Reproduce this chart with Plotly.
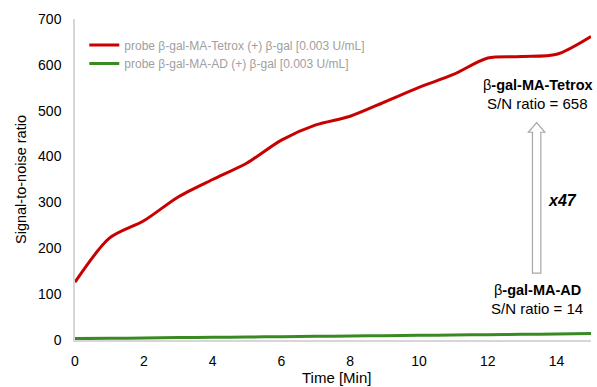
import plotly.graph_objects as go

time_min = [0, 1, 2, 3, 4, 5, 6, 7, 8, 9, 10, 11, 12, 13, 14, 15]
tetrox = [126, 222, 260, 312, 350, 386, 436, 469, 488, 519, 551, 579, 615, 618, 623, 662]
ad = [3, 3.7, 4.4, 5.2, 5.9, 6.6, 7.3, 8.0, 8.8, 9.5, 10.2, 11.0, 11.7, 12.4, 13.2, 14.0]

names = ["probe β-gal-MA-Tetrox (+) β-gal [0.003 U/mL]",
         "probe β-gal-MA-AD (+) β-gal [0.003 U/mL]"]

FONT = "Liberation Sans, Arial, sans-serif"

fig = go.Figure()
fig.add_trace(go.Scatter(x=time_min, y=tetrox, mode="lines", name=names[0], legend="legend",
                         line=dict(color="#C80000", width=3, shape="spline", smoothing=0.8)))
fig.add_trace(go.Scatter(x=time_min, y=ad, mode="lines", name=names[1], legend="legend2",
                         line=dict(color="#3A8A24", width=3, shape="spline")))

# hollow arrow
xc, hw, sw = 13.42, 0.24, 0.122
yb, yh, yt = 146, 453, 474
path = (f"M {xc-sw},{yb} L {xc+sw},{yb} L {xc+sw},{yh} L {xc+hw},{yh} "
        f"L {xc},{yt} L {xc-hw},{yh} L {xc-sw},{yh} Z")
fig.add_shape(type="path", path=path, xref="x", yref="y",
              line=dict(color="#A6A6A6", width=1.2), fillcolor="white")

def ann(x, y, text, size, yanchor="middle"):
    fig.add_annotation(x=x, y=y, xref="x", yref="y", showarrow=False, text=text,
                       yanchor=yanchor, borderpad=0,
                       font=dict(family=FONT, size=size, color="#000"))

ann(13.46, 537, "β<b>-gal-MA-Tetrox</b>", 14.5, "bottom")
ann(13.44, 537, "S/N ratio = 658", 15, "top")
ann(14.16, 305, "<b><i>x47</i></b>", 16)
ann(13.44, 89, "β<b>-gal-MA-AD</b>", 14.5, "bottom")
ann(13.44, 89, "S/N ratio = 14", 15, "top")

# x-axis title
fig.add_annotation(x=0.506, y=0, xref="paper", yref="paper", yshift=-37,
                   showarrow=False, text="Time [Min]", yanchor="middle", borderpad=0,
                   font=dict(family=FONT, size=15, color="#000"))

legend_common = dict(x=0.018, xanchor="left", yanchor="middle",
                     bgcolor="rgba(0,0,0,0)", font=dict(family=FONT, size=12, color="#A0A0A0"),
                     itemwidth=30)

fig.update_layout(
    width=597, height=387,
    margin=dict(l=75, r=6, t=19, b=47, autoexpand=False),
    paper_bgcolor="white", plot_bgcolor="white",
    font=dict(family=FONT, size=14, color="#000"),
    showlegend=True,
    legend=dict(y=0.919, **legend_common),
    legend2=dict(y=0.861, **legend_common),
    xaxis=dict(range=[0, 15], tickvals=[0, 2, 4, 6, 8, 10, 12, 14], showgrid=False,
               zeroline=False, showline=True, linecolor="#D6D6D6", linewidth=1.5,
               ticks="", ticklabelstandoff=7, automargin=False,
               tickfont=dict(size=14)),
    yaxis=dict(range=[0, 700], tickvals=[0, 100, 200, 300, 400, 500, 600, 700], showgrid=False,
               zeroline=False, showline=True, linecolor="#D6D6D6", linewidth=1.5,
               ticks="", ticklabelstandoff=9, automargin=False,
               title=dict(text="Signal-to-noise ratio", font=dict(size=14.5), standoff=8),
               tickfont=dict(size=14)),
)

fig.write_html("out.html")
